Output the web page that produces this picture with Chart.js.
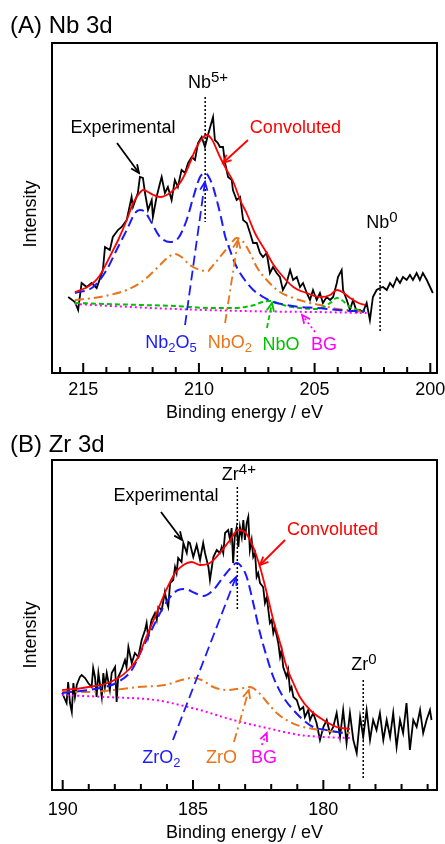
<!DOCTYPE html>
<html>
<head>
<meta charset="utf-8">
<script src="https://cdn.jsdelivr.net/npm/chart.js@4.4.0/dist/chart.umd.min.js"></script>
<style>
  body { margin: 0; background: #fff; }
  canvas { position: absolute; left: 0; }
</style>
</head>
<body>
<canvas id="chartA" width="445" height="424" style="top:0"></canvas>
<canvas id="chartB" width="445" height="424" style="top:420px"></canvas>
<script>
// ---- (A) Nb 3d : [binding energy eV, intensity a.u.] ----
const nbTicks = [200, 201, 202, 203, 204, 205, 206, 207, 208, 209, 210, 211, 212, 213, 214, 215, 216];
const nbTickLabels = [200, 205, 210, 215];

const nbExperimental = [
  [215.65,76],[215.36,71],[215.22,63],[215.07,90],[214.85,86],[214.64,90],[214.42,85],[214.15,103],[214.06,126],[213.85,123],
  [213.72,136],[213.50,143],[213.34,146],[213.12,153],[212.91,176],[212.85,166],[212.64,180],[212.55,196],[212.42,195],[212.33,180],
  [212.20,163],[212.04,173],[211.99,156],[211.83,176],[211.68,190],[211.61,196],[211.47,180],[211.34,186],[211.18,173],[211.04,193],
  [210.91,186],[210.75,203],[210.60,200],[210.47,210],[210.31,216],[210.17,213],[210.04,230],[209.88,236],[209.74,226],[209.61,238],
  [209.39,256],[209.31,233],[209.18,230],[209.09,226],[208.96,226],[208.87,210],[208.74,196],[208.58,193],[208.53,183],[208.37,173],
  [208.22,176],[208.09,153],[207.93,150],[207.79,140],[207.66,130],[207.50,130],[207.36,120],[207.23,116],[207.07,120],[206.93,100],
  [206.80,106],[206.64,100],[206.50,96],[206.37,83],[206.21,90],[206.06,103],[205.93,93],[205.77,96],[205.63,86],[205.50,90],
  [205.34,80],[205.20,73],[205.07,83],[204.91,73],[204.77,80],[204.64,70],[204.48,76],[204.33,73],[204.20,76],[204.04,90],
  [203.99,96],[203.83,103],[203.77,83],[203.61,73],[203.47,63],[203.34,73],[203.18,61],[203.04,63],[202.91,61],[202.75,70],
  [202.61,53],[202.48,76],[202.32,83],[202.17,85],[202.04,86],[201.88,83],[201.74,90],[201.61,86],[201.45,95],[201.31,90],
  [201.18,96],[201.02,93],[200.88,98],[200.75,93],[200.59,100],[200.45,93],[200.32,100],[200.15,93],[200.01,86],[199.89,80]
];
const nbConvoluted = [
  [215.36,81],[214.9,85],[214.57,90],[214.3,97],[213.99,110],[213.75,121],[213.49,133],[213.12,153],[212.84,170],[212.6,179],
  [212.41,183],[212.2,181],[211.97,178],[211.68,176],[211.25,180],[210.82,190],[210.6,199],[210.39,210],[210.1,226],[209.81,236],
  [209.67,238],[209.45,234],[209.09,216],[208.8,203],[208.53,192],[208.2,172],[207.94,160],[207.58,140],[207.36,131],[207.07,120],
  [206.8,109],[206.5,100],[206.2,92],[205.92,86],[205.6,82],[205.34,80],[205.0,77],[204.7,76],[204.33,78],[204.04,83],
  [203.8,81],[203.47,75],[203.1,70],[202.82,68]
];
const nbNb2O5 = [
  [215.36,80],[214.57,86],[213.99,103],[213.56,123],[213.12,143],[212.76,160],[212.55,163],[212.33,161],[212.04,150],[211.68,136],
  [211.25,131],[210.89,135],[210.53,153],[210.24,176],[209.95,196],[209.74,200],[209.45,190],[209.23,173],[209.02,153],[208.87,137],
  [208.66,123],[208.37,106],[208.08,95],[207.65,83],[207.22,76],[206.79,71],[206.21,68],[205.63,66],[204.91,65],[204.0,63],
  [203.2,62],[202.82,62]
];
const nbNbO2 = [
  [215.36,73],[214.57,75],[213.85,78],[213.12,83],[212.55,90],[212.12,98],[211.68,108],[211.32,116],[211.04,119],[210.75,116],
  [210.39,108],[209.95,103],[209.6,102],[209.52,104],[209.09,116],[208.66,128],[208.37,135],[208.08,131],[207.79,120],[207.5,106],
  [207.07,93],[206.5,81],[205.92,75],[205.2,70],[204.77,68],[204.0,64],[203.2,62],[202.82,61]
];
const nbNbO = [
  [215.36,70],[214.0,69],[212.5,68],[211.0,67],[209.5,65],[208.5,65],[208.0,66],[207.6,68],[207.25,71],[206.93,72],
  [206.6,70],[206.2,67],[205.63,65],[205.0,64],[204.6,66],[204.33,70],[204.04,75],[203.83,73],[203.47,66],[203.1,63],
  [202.82,62]
];
const nbBG = [
  [215.36,69],[213.0,66],[211.0,64],[209.0,62.5],[207.0,61.5],[205.0,61],[202.75,60]
];

// ---- (B) Zr 3d ----
const zrTicks = [176, 177, 178, 179, 180, 181, 182, 183, 184, 185, 186, 187, 188, 189, 190];
const zrTickLabels = [180, 185, 190];

const zrExperimental = [
  [190.02,97],[189.85,87],[189.79,108],[189.72,87],[189.65,78],[189.59,107],[189.53,93],[189.46,105],[189.34,113],[189.27,115],
  [189.14,112],[189.02,107],[188.89,103],[188.83,122],[188.76,113],[188.70,93],[188.63,117],[188.50,93],[188.44,117],[188.38,103],
  [188.31,117],[188.19,100],[188.12,117],[187.99,123],[187.93,88],[187.87,113],[187.74,120],[187.61,130],[187.55,123],[187.48,143],
  [187.35,127],[187.23,137],[187.10,133],[186.97,150],[186.84,160],[186.78,167],[186.72,153],[186.59,170],[186.46,177],[186.39,170],
  [186.33,183],[186.20,180],[186.08,198],[186.01,188],[185.95,183],[185.88,207],[185.76,210],[185.69,223],[185.63,217],[185.57,232],
  [185.44,228],[185.37,247],[185.24,237],[185.18,248],[185.12,247],[184.99,233],[184.86,245],[184.73,230],[184.61,247],[184.54,237],
  [184.41,223],[184.35,210],[184.22,233],[184.09,240],[183.97,237],[183.90,243],[183.84,237],[183.77,257],[183.65,260],[183.58,250],
  [183.52,262],[183.46,227],[183.40,253],[183.33,262],[183.26,243],[183.20,263],[183.13,253],[183.07,270],[183.01,250],[182.94,267],
  [182.88,273],[182.82,240],[182.75,250],[182.69,233],[182.62,237],[182.56,213],[182.50,217],[182.43,207],[182.31,203],[182.24,187],
  [182.17,193],[182.05,167],[181.98,170],[181.92,157],[181.86,163],[181.73,147],[181.66,133],[181.60,140],[181.54,123],[181.41,113],
  [181.35,120],[181.28,100],[181.22,103],[181.15,93],[181.02,90],[180.90,80],[180.77,83],[180.71,73],[180.58,80],[180.51,70],
  [180.39,77],[180.26,67],[180.13,50],[180.00,63],[179.87,70],[179.75,57],[179.62,63],[179.49,77],[179.36,53],[179.24,80],
  [179.11,47],[178.98,77],[178.85,50],[178.72,37],[178.59,73],[178.47,53],[178.34,80],[178.21,50],[178.09,70],[177.96,60],
  [177.83,77],[177.70,50],[177.57,70],[177.44,53],[177.32,77],[177.19,43],[177.06,70],[176.94,57],[176.81,87],[176.68,40],
  [176.55,70],[176.42,63],[176.29,80],[176.17,57],[176.04,70],[175.91,80],[175.85,70]
];
const zrConvoluted = [
  [190.02,100],[189.5,101],[189.02,103],[188.38,106],[187.87,112],[187.48,120],[187.1,133],[186.84,150],[186.46,173],[186.08,197],
  [185.69,217],[185.37,225],[185.05,228],[184.73,225],[184.35,227],[183.97,237],[183.58,250],[183.26,260],[183.01,258],[182.69,243],
  [182.43,223],[182.17,197],[181.92,170],[181.66,147],[181.41,123],[181.15,107],[180.9,93],[180.51,80],[180.0,70],[179.49,63],
  [178.98,61]
];
const zrZrO2 = [
  [190.02,97],[189.02,100],[188.38,103],[187.87,108],[187.35,120],[186.97,140],[186.59,160],[186.2,180],[185.88,193],[185.57,200],
  [185.31,201],[184.93,197],[184.61,194],[184.22,200],[183.84,213],[183.52,223],[183.33,227],[183.13,223],[182.94,213],[182.69,187],
  [182.43,157],[182.17,133],[181.92,113],[181.54,93],[181.15,80],[180.77,70],[180.39,63],[179.9,60],[179.24,57]
];
const zrZrO = [
  [190.02,98],[189.0,98],[188.38,99],[187.1,103],[186.08,105],[185.44,110],[185.05,112],[184.67,110],[184.22,103],[183.71,100],
  [183.07,102],[182.82,103],[182.5,98],[182.17,88],[181.79,77],[181.28,68],[180.77,63],[180.13,60],[179.5,58],[178.98,57]
];
const zrBG = [
  [190.02,95],[188.38,93],[186.46,90],[185.18,83],[184.73,80],[183.46,70],[182.17,62],[180.9,55],[180.0,53],[178.98,52]
];

const FONT = 'Arial, "Liberation Sans", sans-serif';
const RED = '#ff0000', BLUE = '#1a1aff', ORANGE = '#e8741c', GREEN = '#00c000', MAGENTA = '#ff00ff';
const DASH = { solid: [], dash: [10, 5], dashdot: [9, 4, 2, 4], short: [5, 3], dot: [2, 3] };

Chart.defaults.font.family = FONT;
Chart.defaults.color = '#000';

function richText(ctx, parts, x, y, color) {
  const size = p => p[1] === 'sup' ? 15 : p[1] === 'sub' ? 13 : 18;
  let w = 0;
  parts.forEach(p => {
    ctx.font = size(p) + 'px ' + FONT;
    w += ctx.measureText(p[0]).width;
  });
  let cx = x - w / 2;
  ctx.fillStyle = color;
  ctx.textAlign = 'left';
  ctx.textBaseline = 'alphabetic';
  parts.forEach(p => {
    ctx.font = size(p) + 'px ' + FONT;
    const dy = p[1] === 'sub' ? 4 : p[1] === 'sup' ? -6 : 0;
    ctx.fillText(p[0], cx, y + dy);
    cx += ctx.measureText(p[0]).width;
  });
}

function arrow(ctx, x1, y1, x2, y2, color, dash) {
  ctx.save();
  ctx.strokeStyle = color;
  ctx.lineWidth = 1.8;
  ctx.setLineDash(dash);
  ctx.beginPath(); ctx.moveTo(x1, y1); ctx.lineTo(x2, y2); ctx.stroke();
  ctx.setLineDash([]);
  const a = Math.atan2(y2 - y1, x2 - x1), h = 9, s = 0.42;
  ctx.beginPath();
  ctx.moveTo(x2 - h * Math.cos(a - s), y2 - h * Math.sin(a - s));
  ctx.lineTo(x2, y2);
  ctx.lineTo(x2 - h * Math.cos(a + s), y2 - h * Math.sin(a + s));
  ctx.stroke();
  ctx.restore();
}

// frame, inside ticks, marker lines, labels and arrows
const decorPlugin = {
  id: 'decor',
  afterDatasetsDraw(chart, args, o) {
    const { ctx, chartArea: a, scales: { x, y } } = chart;
    ctx.save();

    ctx.strokeStyle = '#000';
    ctx.lineWidth = 2;
    x.ticks.forEach(t => {
      const px = x.getPixelForValue(t.value);
      const len = t.value % 5 === 0 ? 10 : 6;
      ctx.beginPath(); ctx.moveTo(px, a.bottom); ctx.lineTo(px, a.bottom - len); ctx.stroke();
    });
    ctx.strokeRect(a.left, a.top, a.right - a.left, a.bottom - a.top);

    ctx.lineWidth = 1.5;
    ctx.setLineDash([2, 2]);
    o.vlines.forEach(v => {
      const px = x.getPixelForValue(v.x);
      ctx.beginPath(); ctx.moveTo(px, y.getPixelForValue(v.y1)); ctx.lineTo(px, y.getPixelForValue(v.y2)); ctx.stroke();
    });
    ctx.setLineDash([]);

    o.arrows.forEach(r => arrow(ctx,
      x.getPixelForValue(r.from[0]), y.getPixelForValue(r.from[1]),
      x.getPixelForValue(r.to[0]), y.getPixelForValue(r.to[1]), r.color, DASH[r.dash]));

    o.labels.forEach(l => richText(ctx, l.parts, x.getPixelForValue(l.x), y.getPixelForValue(l.y), l.color));

    ctx.fillStyle = '#000';
    ctx.font = '24px ' + FONT;
    ctx.textAlign = 'left';
    ctx.textBaseline = 'alphabetic';
    ctx.fillText(o.title, 10, o.titleY);

    ctx.translate(31, o.yTitleAt);
    ctx.rotate(-Math.PI / 2);
    ctx.font = '18px ' + FONT;
    ctx.textAlign = 'center';
    ctx.textBaseline = 'middle';
    ctx.fillText('Intensity', 0, 0);
    ctx.restore();
  }
};

function series(label, pts, color, width, dash, smooth) {
  return {
    label, data: pts.map(p => ({ x: p[0], y: p[1] })),
    borderColor: color, borderWidth: width, borderDash: DASH[dash],
    pointRadius: 0, fill: false,
    tension: smooth ? 0.4 : 0, cubicInterpolationMode: smooth ? 'monotone' : 'default'
  };
}

function makeChart(id, c) {
  return new Chart(document.getElementById(id), {
    type: 'line',
    data: { datasets: c.datasets },
    options: {
      responsive: false,
      animation: false,
      events: [],
      layout: { padding: { top: c.padTop, left: 52, right: 8, bottom: 0 } },
      plugins: { legend: { display: false }, tooltip: { enabled: false }, decor: c.decor },
      scales: {
        x: {
          type: 'linear', reverse: true, min: c.min, max: c.max,
          afterBuildTicks: s => { s.ticks = c.ticks.map(v => ({ value: v })); },
          afterFit: s => { s.height = c.axisH; },
          ticks: {
            autoSkip: false, maxRotation: 0, padding: c.tickPad, color: '#000', font: { size: 18 },
            callback: v => c.tickLabels.includes(v) ? String(v) : ''
          },
          grid: { display: false, drawTicks: false },
          border: { display: false },
          title: { display: true, text: 'Binding energy / eV', color: '#000', font: { size: 18 }, padding: 0 }
        },
        y: { display: false, min: 0, max: 330 }
      }
    },
    plugins: [decorPlugin]
  });
}

makeChart('chartA', {
  min: 199.71, max: 216.35, ticks: nbTicks, tickLabels: nbTickLabels,
  padTop: 43, axisH: 51, tickPad: 6,
  datasets: [
    series('Convoluted', nbConvoluted, RED, 1.8, 'solid', true),
    series('Nb2O5', nbNb2O5, BLUE, 2, 'dash', true),
    series('NbO2', nbNbO2, ORANGE, 2, 'dashdot', true),
    series('NbO', nbNbO, GREEN, 2, 'short', true),
    series('BG', nbBG, MAGENTA, 2, 'dot', true),
    series('Experimental', nbExperimental, '#000', 1.8, 'solid', false)
  ],
  decor: {
    title: '(A) Nb 3d', titleY: 33, yTitleAt: 214,
    vlines: [{ x: 209.73, y1: 276, y2: 151 }, { x: 202.17, y1: 136, y2: 40 }],
    labels: [
      { x: 209.61, y: 285, parts: [['Nb'], ['5+', 'sup']], color: '#000' },
      { x: 202.09, y: 145, parts: [['Nb'], ['0', 'sup']], color: '#000' },
      { x: 213.28, y: 240, parts: [['Experimental']], color: '#000' },
      { x: 205.83, y: 240, parts: [['Convoluted']], color: RED },
      { x: 211.21, y: 25, parts: [['Nb'], ['2', 'sub'], ['O'], ['5', 'sub']], color: BLUE },
      { x: 208.66, y: 25, parts: [['NbO'], ['2', 'sub']], color: ORANGE },
      { x: 206.45, y: 23, parts: [['NbO']], color: GREEN },
      { x: 204.59, y: 23, parts: [['BG']], color: MAGENTA }
    ],
    arrows: [
      { from: [213.54, 230], to: [212.59, 200], color: '#000', dash: 'solid' },
      { from: [207.88, 233], to: [208.96, 210], color: RED, dash: 'solid' },
      { from: [210.60, 48], to: [209.74, 191], color: BLUE, dash: 'dash' },
      { from: [208.87, 50], to: [208.31, 133], color: ORANGE, dash: 'dashdot' },
      { from: [207.06, 45], to: [206.84, 70], color: GREEN, dash: 'short' },
      { from: [204.98, 41], to: [205.54, 58], color: MAGENTA, dash: 'dot' }
    ]
  }
});

makeChart('chartB', {
  min: 175.64, max: 190.41, ticks: zrTicks, tickLabels: zrTickLabels,
  padTop: 40, axisH: 54, tickPad: 9,
  datasets: [
    series('Convoluted', zrConvoluted, RED, 1.8, 'solid', true),
    series('ZrO2', zrZrO2, BLUE, 2, 'dash', true),
    series('ZrO', zrZrO, ORANGE, 2, 'dashdot', true),
    series('BG', zrBG, MAGENTA, 2, 'dot', true),
    series('Experimental', zrExperimental, '#000', 1.8, 'solid', false)
  ],
  decor: {
    title: '(B) Zr 3d', titleY: 32, yTitleAt: 215,
    vlines: [{ x: 183.30, y1: 303, y2: 180 }, { x: 178.47, y1: 110, y2: 12 }],
    labels: [
      { x: 183.24, y: 310, parts: [['Zr'], ['4+', 'sup']], color: '#000' },
      { x: 178.44, y: 120, parts: [['Zr'], ['0', 'sup']], color: '#000' },
      { x: 186.04, y: 289, parts: [['Experimental']], color: '#000' },
      { x: 179.65, y: 255, parts: [['Convoluted']], color: RED },
      { x: 186.21, y: 27, parts: [['ZrO'], ['2', 'sub']], color: BLUE },
      { x: 183.91, y: 27, parts: [['ZrO']], color: ORANGE },
      { x: 182.28, y: 27, parts: [['BG']], color: MAGENTA }
    ],
    arrows: [
      { from: [186.23, 278], to: [185.42, 250], color: '#000', dash: 'solid' },
      { from: [181.47, 250], to: [182.43, 225], color: RED, dash: 'solid' },
      { from: [185.77, 50], to: [183.35, 213], color: BLUE, dash: 'dash' },
      { from: [183.43, 48], to: [182.86, 100], color: ORANGE, dash: 'dashdot' },
      { from: [182.36, 45], to: [182.17, 57], color: MAGENTA, dash: 'dot' }
    ]
  }
});
</script>
</body>
</html>
